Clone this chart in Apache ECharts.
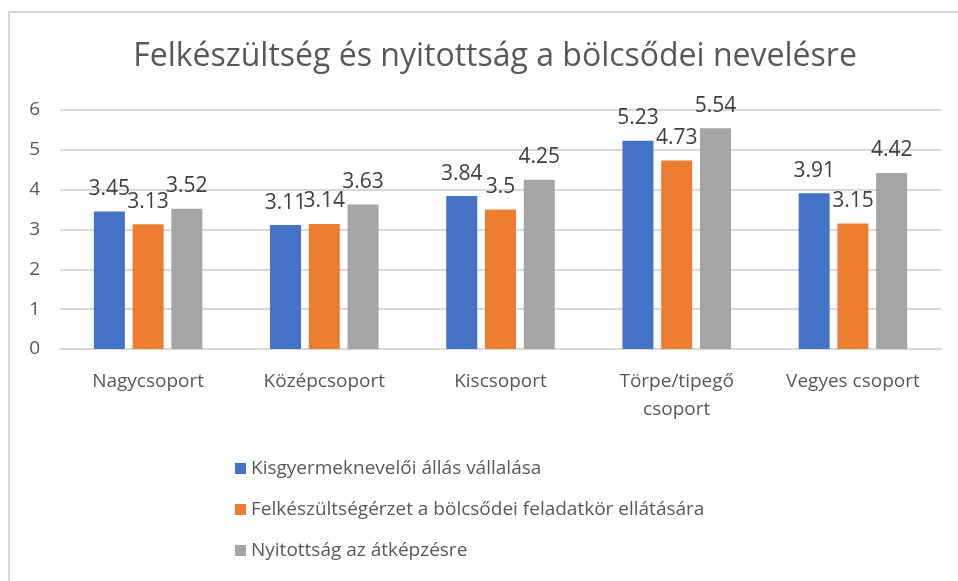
<!DOCTYPE html>
<html>
<head>
<meta charset="utf-8">
<script src="https://cdn.jsdelivr.net/npm/echarts@6/dist/echarts.min.js"></script>
<style>
  html, body { margin: 0; padding: 0; background: #fff; }
  .chart-frame {
    position: absolute;
    left: 8px;
    top: 11px;
    width: 960px;
    height: 580px;
    border-left: 2px solid #d9d9d9;
    border-top: 2px solid #d9d9d9;
    box-sizing: border-box;
  }
  #chart { position: absolute; left: 0; top: 0; width: 958px; height: 581px; }
</style>
</head>
<body>
<div class="chart-frame"></div>
<div id="chart"></div>
<script>
// adatok
var categories = ['Nagycsoport', 'Középcsoport', 'Kiscsoport', 'Törpe/tipegő\ncsoport', 'Vegyes csoport'];
var seriesNames = [
  'Kisgyermeknevelői állás vállalása',
  'Felkészültségérzet a bölcsődei feladatkör ellátására',
  'Nyitottság az átképzésre'
];
var allasVallalasa = [3.45, 3.11, 3.84, 5.23, 3.91];
var felkeszultseg = [3.13, 3.14, 3.5, 4.73, 3.15];
var nyitottsag = [3.52, 3.63, 4.25, 5.54, 4.42];
var colors = ['#4472c4', '#ed7d31', '#a5a5a5'];

var textColor = '#595959';
var fontFamily = 'Open Sans, Noto Sans, sans-serif';

function makeSeries(name, data, color) {
  return {
    name: name,
    type: 'bar',
    data: data,
    barWidth: 31,
    barGap: '25%',
    itemStyle: { color: color },
    label: {
      show: true,
      position: 'top',
      distance: 12,
      color: '#404040',
      fontSize: 21,
      fontFamily: fontFamily
    }
  };
}

var myChart = echarts.init(document.getElementById('chart'));
var option = {
  animation: false,
  color: colors,
  title: {
    text: 'Felkészültség és nyitottság a bölcsődei nevelésre',
    left: 490,
    top: 36,
    textAlign: 'center',
    textStyle: {
      color: textColor,
      fontSize: 32,
      fontWeight: 'normal',
      fontFamily: fontFamily
    }
  },
  grid: {
    left: 60,
    right: 17,
    top: 110,
    bottom: 232
  },
  legend: {
    orient: 'vertical',
    left: 230,
    top: 454,
    itemWidth: 11,
    itemHeight: 11,
    itemGap: 22,
    icon: 'rect',
    textStyle: {
      color: textColor,
      fontSize: 19,
      fontFamily: fontFamily
    },
    data: seriesNames
  },
  xAxis: {
    type: 'category',
    data: categories,
    axisLine: { lineStyle: { color: '#d9d9d9', width: 2 } },
    axisTick: { show: false },
    axisLabel: {
      color: textColor,
      fontSize: 19,
      fontFamily: fontFamily,
      margin: 19,
      lineHeight: 28,
      interval: 0
    }
  },
  yAxis: {
    type: 'value',
    min: 0,
    max: 6,
    interval: 1,
    axisLine: { show: false },
    axisTick: { show: false },
    splitLine: { lineStyle: { color: '#d9d9d9', width: 2 } },
    axisLabel: {
      color: textColor,
      fontSize: 19,
      fontFamily: fontFamily,
      margin: 20
    }
  },
  series: [
    makeSeries(seriesNames[0], allasVallalasa, colors[0]),
    makeSeries(seriesNames[1], felkeszultseg, colors[1]),
    makeSeries(seriesNames[2], nyitottsag, colors[2])
  ]
};
myChart.setOption(option);
</script>
</body>
</html>
